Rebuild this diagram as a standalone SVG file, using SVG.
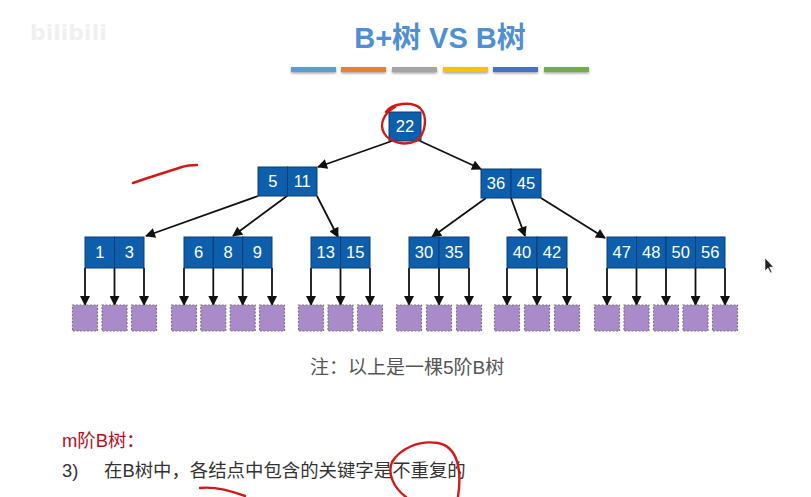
<svg xmlns="http://www.w3.org/2000/svg" width="811" height="497" viewBox="0 0 811 497">
  <style>
    .cell { fill: #0d5fab; stroke: #0a3d75; stroke-width: 1; }
    .num { font-family: "Liberation Sans", Arial, sans-serif; font-size: 16.5px; fill: #ffffff; text-anchor: middle; }
    .leaf { fill: #a98bc9; stroke: #7a7a7a; stroke-width: 1.2; stroke-dasharray: 2 1.5; }
    .edge { stroke: #111; stroke-width: 1.8; fill: none; marker-end: url(#arrow); }
    .ink { stroke: #d41818; stroke-width: 2.4; fill: none; stroke-linecap: round; stroke-linejoin: round; }
  </style>
  <defs>
    <marker id="arrow" viewBox="0 0 10 10" refX="9" refY="5" markerWidth="11" markerHeight="10" orient="auto" markerUnits="userSpaceOnUse">
      <path d="M0,0 L10,5 L0,10 Z" fill="#111"/>
    </marker>
    <filter id="barShadow" x="-5%" y="-50%" width="110%" height="250%">
      <feDropShadow dx="0" dy="1.5" stdDeviation="0.8" flood-color="#000" flood-opacity="0.35"/>
    </filter>
  </defs>

  <rect width="811" height="497" fill="#ffffff"/>

  <!-- faint logo mark -->
  <text x="30" y="40" font-family="'DejaVu Sans', sans-serif" font-weight="bold" font-size="22" fill="#f0f0f0">bilibili</text>

  <!-- title -->
  <text x="440" y="48" font-family="'Liberation Sans', 'Noto Sans CJK SC', sans-serif" font-weight="bold" font-size="29" fill="#4f8fd2" text-anchor="middle">B+树 VS B树</text>

  <!-- colour strip -->
  <g filter="url(#barShadow)">
    <rect x="291" y="67" width="45" height="5" fill="#5b9bd5"/>
    <rect x="341" y="67" width="45" height="5" fill="#ed7d31"/>
    <rect x="392" y="67" width="45" height="5" fill="#a5a5a5"/>
    <rect x="443" y="67" width="45" height="5" fill="#ffc000"/>
    <rect x="493" y="67" width="45" height="5" fill="#4472c4"/>
    <rect x="544" y="67" width="45" height="5" fill="#70ad47"/>
  </g>

  <!-- connectors -->
  <g id="connectors">
    <line class="edge" x1="392" y1="141" x2="318" y2="167"/>
    <line class="edge" x1="420" y1="141" x2="481" y2="169"/>
    <line class="edge" x1="258" y1="196" x2="146" y2="236"/>
    <line class="edge" x1="287" y1="196" x2="233" y2="236"/>
    <line class="edge" x1="317" y1="196" x2="338" y2="237"/>
    <line class="edge" x1="486" y1="198" x2="432" y2="237"/>
    <line class="edge" x1="511" y1="198" x2="525" y2="236"/>
    <line class="edge" x1="541" y1="198" x2="605" y2="238"/>
    <!-- leaf pointers -->
    <line class="edge" x1="85" y1="268" x2="85" y2="305"/>
    <line class="edge" x1="114.5" y1="268" x2="114.5" y2="305"/>
    <line class="edge" x1="144" y1="268" x2="144" y2="305"/>
    <line class="edge" x1="184" y1="268" x2="184" y2="305"/>
    <line class="edge" x1="213.3" y1="268" x2="213.3" y2="305"/>
    <line class="edge" x1="242.7" y1="268" x2="242.7" y2="305"/>
    <line class="edge" x1="272" y1="268" x2="272" y2="305"/>
    <line class="edge" x1="311" y1="268" x2="311" y2="305"/>
    <line class="edge" x1="340.5" y1="268" x2="340.5" y2="305"/>
    <line class="edge" x1="370" y1="268" x2="370" y2="305"/>
    <line class="edge" x1="409" y1="268" x2="409" y2="305"/>
    <line class="edge" x1="439" y1="268" x2="439" y2="305"/>
    <line class="edge" x1="469" y1="268" x2="469" y2="305"/>
    <line class="edge" x1="507" y1="268" x2="507" y2="305"/>
    <line class="edge" x1="537" y1="268" x2="537" y2="305"/>
    <line class="edge" x1="567" y1="268" x2="567" y2="305"/>
    <line class="edge" x1="607" y1="268" x2="607" y2="305"/>
    <line class="edge" x1="636.5" y1="268" x2="636.5" y2="305"/>
    <line class="edge" x1="666" y1="268" x2="666" y2="305"/>
    <line class="edge" x1="695.5" y1="268" x2="695.5" y2="305"/>
    <line class="edge" x1="725" y1="268" x2="725" y2="305"/>
  </g>

  <!-- root -->
  <g id="node-root">
    <rect class="cell" x="389" y="112" width="32" height="29"/>
    <text class="num" x="405" y="132">22</text>
  </g>

  <!-- second level -->
  <g id="node-5-11">
    <rect class="cell" x="258" y="167" width="29.5" height="29"/>
    <rect class="cell" x="287.5" y="167" width="29.5" height="29"/>
    <text class="num" x="272.75" y="187">5</text>
    <text class="num" x="302.25" y="187">11</text>
  </g>
  <g id="node-36-45">
    <rect class="cell" x="481" y="169" width="30" height="29"/>
    <rect class="cell" x="511" y="169" width="30" height="29"/>
    <text class="num" x="496" y="189">36</text>
    <text class="num" x="526" y="189">45</text>
  </g>

  <!-- third level -->
  <g id="node-1-3">
    <rect class="cell" x="85" y="237" width="29.5" height="31"/>
    <rect class="cell" x="114.5" y="237" width="29.5" height="31"/>
    <text class="num" x="99.75" y="258">1</text>
    <text class="num" x="129.25" y="258">3</text>
  </g>
  <g id="node-6-8-9">
    <rect class="cell" x="184" y="237" width="29.33" height="31"/>
    <rect class="cell" x="213.33" y="237" width="29.33" height="31"/>
    <rect class="cell" x="242.67" y="237" width="29.33" height="31"/>
    <text class="num" x="198.7" y="258">6</text>
    <text class="num" x="228" y="258">8</text>
    <text class="num" x="257.3" y="258">9</text>
  </g>
  <g id="node-13-15">
    <rect class="cell" x="311" y="237" width="29.5" height="31"/>
    <rect class="cell" x="340.5" y="237" width="29.5" height="31"/>
    <text class="num" x="325.75" y="258">13</text>
    <text class="num" x="355.25" y="258">15</text>
  </g>
  <g id="node-30-35">
    <rect class="cell" x="409" y="237" width="30" height="31"/>
    <rect class="cell" x="439" y="237" width="30" height="31"/>
    <text class="num" x="424" y="258">30</text>
    <text class="num" x="454" y="258">35</text>
  </g>
  <g id="node-40-42">
    <rect class="cell" x="507" y="237" width="30" height="31"/>
    <rect class="cell" x="537" y="237" width="30" height="31"/>
    <text class="num" x="522" y="258">40</text>
    <text class="num" x="552" y="258">42</text>
  </g>
  <g id="node-47-56">
    <rect class="cell" x="607" y="237" width="29.5" height="31"/>
    <rect class="cell" x="636.5" y="237" width="29.5" height="31"/>
    <rect class="cell" x="666" y="237" width="29.5" height="31"/>
    <rect class="cell" x="695.5" y="237" width="29.5" height="31"/>
    <text class="num" x="621.75" y="258">47</text>
    <text class="num" x="651.25" y="258">48</text>
    <text class="num" x="680.75" y="258">50</text>
    <text class="num" x="710.25" y="258">56</text>
  </g>

  <!-- leaf placeholders -->
  <g id="leaves">
    <rect class="leaf" x="72.5" y="305" width="25" height="26"/>
    <rect class="leaf" x="102" y="305" width="25" height="26"/>
    <rect class="leaf" x="131.5" y="305" width="25" height="26"/>
    <rect class="leaf" x="171.5" y="305" width="25" height="26"/>
    <rect class="leaf" x="200.8" y="305" width="25" height="26"/>
    <rect class="leaf" x="230.2" y="305" width="25" height="26"/>
    <rect class="leaf" x="259.5" y="305" width="25" height="26"/>
    <rect class="leaf" x="298.5" y="305" width="25" height="26"/>
    <rect class="leaf" x="328" y="305" width="25" height="26"/>
    <rect class="leaf" x="357.5" y="305" width="25" height="26"/>
    <rect class="leaf" x="396.5" y="305" width="25" height="26"/>
    <rect class="leaf" x="426.5" y="305" width="25" height="26"/>
    <rect class="leaf" x="456.5" y="305" width="25" height="26"/>
    <rect class="leaf" x="494.5" y="305" width="25" height="26"/>
    <rect class="leaf" x="524.5" y="305" width="25" height="26"/>
    <rect class="leaf" x="554.5" y="305" width="25" height="26"/>
    <rect class="leaf" x="594.5" y="305" width="25" height="26"/>
    <rect class="leaf" x="624" y="305" width="25" height="26"/>
    <rect class="leaf" x="653.5" y="305" width="25" height="26"/>
    <rect class="leaf" x="683" y="305" width="25" height="26"/>
    <rect class="leaf" x="712.5" y="305" width="25" height="26"/>
  </g>

  <!-- captions -->
  <text x="310" y="374" font-family="'Liberation Sans', 'Noto Sans CJK SC', sans-serif" font-size="19" fill="#555555">注：以上是一棵5阶B树</text>
  <text x="62" y="447" font-family="'Liberation Sans', 'Noto Sans CJK SC', sans-serif" font-size="18.4" fill="#b3101a">m阶B树：</text>
  <text y="477" font-family="'Liberation Sans', 'Noto Sans CJK SC', sans-serif" font-size="18.4" fill="#333333"><tspan x="62">3)</tspan><tspan x="104">在B树中，各结点中包含的关键字是不重复的</tspan></text>

  <!-- hand-drawn red marks -->
  <path class="ink" d="M386 112 C392 103, 412 101, 420 108 C428 116, 426 134, 416 141 C405 146, 390 143, 384 133 C379 124, 384 113, 395 107"/>
  <path class="ink" d="M133 183 C150 177, 170 171, 182 167 C188 165, 193 165, 197 165"/>
  <path class="ink" d="M458 497 C462 470, 458 447, 438 443 C418 440, 400 449, 392 462 C387 474, 394 488, 406 497"/>
  <path class="ink" d="M200 488 Q218 486 245 496"/>

  <!-- pointer -->
  <path d="M765 258 L765 271 L768 268 L770.5 273 L772 272.3 L769.6 267.3 L773.5 267 Z" fill="#222" stroke="#fff" stroke-width="0.6"/>
</svg>
